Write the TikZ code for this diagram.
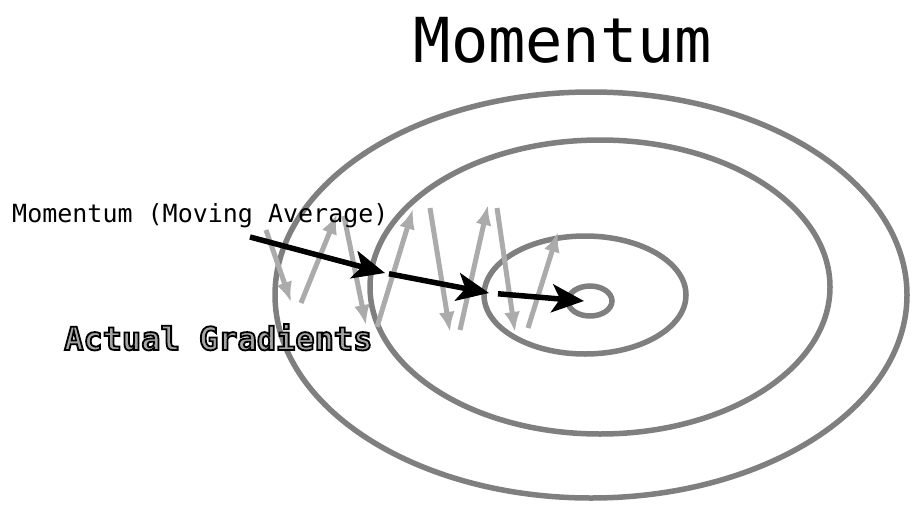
\documentclass[tikz,border=0pt]{standalone}
\usepackage{fontspec}
\setmonofont{DejaVu Sans Mono}
\usepackage{xcolor}
\usepackage{tikz}
\usetikzlibrary{arrows.meta}
\definecolor{momRing}{HTML}{7F7F7F}
\definecolor{momGrad}{HTML}{ABABAB}
\definecolor{momFill}{HTML}{A6A6A6}
\newcommand{\outlined}[1]{\textcolor{momFill}{\special{pdf:literal direct 0 0 0 RG 2 Tr 1.8 w}#1\special{pdf:literal direct 0 Tr}}}
\tikzset{
    ring/.style={draw=momRing, line width=5.5pt},
    gradarrow/.style={-{Latex[length=20pt, width=16pt]}, line width=5pt, draw=momGrad},
    momarrow/.style={-{Stealth[length=32pt, width=28pt, inset=8pt]}, line width=5.5pt, draw=black},
    title/.style={font=\ttfamily\fontsize{62}{70}\selectfont, inner sep=0pt, anchor=base},
    label/.style={font=\ttfamily\fontsize{25}{30}\selectfont, inner sep=0pt, anchor=base west}
}
\begin{document}
\begin{tikzpicture}[x=1pt, y=-1pt]
\useasboundingbox (0,0) rectangle (912,506);
\draw[ring] (591,295) ellipse [x radius=316pt, y radius=203pt];
\draw[ring] (600,287) ellipse [x radius=230pt, y radius=147pt];
\draw[ring] (585,295) ellipse [x radius=101pt, y radius=59pt];
\draw[ring] (590,301) ellipse [x radius=22pt, y radius=15pt];
\foreach \n/\s/\e in {1/{266,230}/{291,302}, 2/{301,303}/{337,214}, 3/{344,216}/{366,325},
    4/{377,327}/{413,209}, 5/{430,208}/{450,332}, 6/{460,330}/{488,205},
    7/{497,208}/{515,332}, 8/{528,328}/{558,232}} {
  \coordinate (gs\n) at (\s);
  \coordinate (ge\n) at (\e);
  \draw[gradarrow] (gs\n) -- (ge\n);
}
\coordinate (m0) at (250,237);
\coordinate (m1) at (385,273);
\coordinate (m2) at (489,293);
\coordinate (m3) at (584,301);
\draw[momarrow] (m0) -- (m1);
\draw[momarrow, shorten <=4pt] (m1) -- (m2);
\draw[momarrow, shorten <=9pt] (m2) -- (m3);
\node[title] (head) at (563,62) {Momentum};
\node[label] (movavg) at (12,222) {Momentum (Moving Average)};
\node[label, font=\ttfamily\bfseries\fontsize{32}{36}\selectfont] (actual) at (64,350)
    {\outlined{Actual Gradients}};
\end{tikzpicture}
\end{document}
